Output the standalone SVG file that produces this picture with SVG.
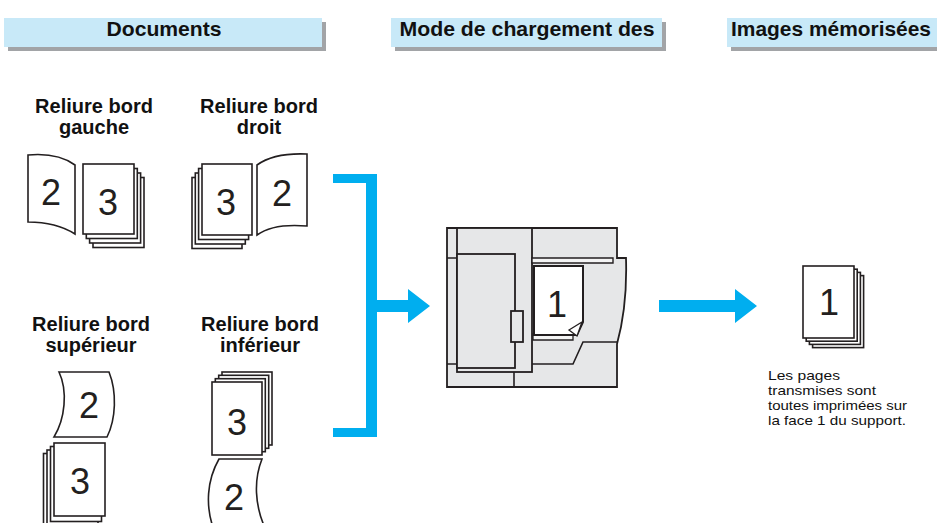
<svg xmlns="http://www.w3.org/2000/svg" width="937" height="523" viewBox="0 0 937 523">
  <style>
    .hdr { fill: #c8e9f8; }
    .shd { fill: #a2a4a7; }
    .htxt { font-family: "Liberation Sans", Arial, sans-serif; font-weight: bold; font-size: 21px; fill: #111; text-anchor: middle; }
    .lbl { font-family: "Liberation Sans", Arial, sans-serif; font-weight: bold; font-size: 20px; fill: #111; text-anchor: middle; }
    .pg { fill: #fff; stroke: #231f20; stroke-width: 1.6; stroke-linejoin: miter; }
    .dig { font-family: "Liberation Sans", Arial, sans-serif; font-size: 36px; fill: #231f20; text-anchor: middle; }
    .blue { fill: #00aeef; }
    .mach { fill: #e6e7e8; stroke: #231f20; stroke-width: 1.8; stroke-linejoin: miter; }
    .ln { fill: none; stroke: #231f20; stroke-width: 1.6; }
    .note { font-family: "Liberation Sans", Arial, sans-serif; font-size: 13.5px; fill: #111; }
  </style>

  <!-- column headers -->
  <g id="header-documents">
    <rect class="shd" x="8" y="22" width="318" height="29"/>
    <rect class="hdr" x="4" y="18" width="318" height="29"/>
    <text class="htxt" x="164" y="36" textLength="115" lengthAdjust="spacingAndGlyphs">Documents</text>
  </g>
  <g id="header-mode">
    <rect class="shd" x="395" y="22" width="271" height="29"/>
    <rect class="hdr" x="391" y="18" width="271" height="29"/>
    <text class="htxt" x="527" y="36" textLength="255" lengthAdjust="spacingAndGlyphs">Mode de chargement des</text>
  </g>
  <g id="header-images">
    <rect class="shd" x="731" y="22" width="215" height="29"/>
    <rect class="hdr" x="727" y="18" width="215" height="29"/>
    <text class="htxt" x="831" y="36" textLength="200" lengthAdjust="spacingAndGlyphs">Images mémorisées</text>
  </g>

  <!-- left-edge binding -->
  <g id="doc-gauche">
    <text class="lbl" x="94" y="113">Reliure bord</text>
    <text class="lbl" x="94" y="134">gauche</text>
    <path class="pg" d="M28,155 C50,153 64,157 75,165 L75,234 C64,227 50,222 28,222 Z"/>
    <text class="dig" x="51" y="205">2</text>
    <rect class="pg" x="93" y="177.5" width="51" height="70"/>
    <rect class="pg" x="89.6" y="173" width="51" height="70"/>
    <rect class="pg" x="86.3" y="168.5" width="51" height="70"/>
    <rect class="pg" x="83" y="164" width="51" height="70"/>
    <text class="dig" x="108" y="215">3</text>
  </g>

  <!-- right-edge binding -->
  <g id="doc-droit">
    <text class="lbl" x="259" y="113">Reliure bord</text>
    <text class="lbl" x="259" y="134">droit</text>
    <rect class="pg" x="192" y="177.5" width="50" height="71"/>
    <rect class="pg" x="195.3" y="173" width="50" height="71"/>
    <rect class="pg" x="198.6" y="168.5" width="50" height="71"/>
    <rect class="pg" x="202" y="164" width="50" height="71"/>
    <text class="dig" x="226" y="215">3</text>
    <path class="pg" d="M257,165 C268,157 284,153 307,154 L307,226 C284,224 268,227 257,235 Z"/>
    <text class="dig" x="282" y="206">2</text>
  </g>

  <!-- top-edge binding -->
  <g id="doc-superieur">
    <text class="lbl" x="91" y="331">Reliure bord</text>
    <text class="lbl" x="91" y="352">supérieur</text>
    <path class="pg" d="M59,372 L109,372 C117,392 116,419 107,437 L54,437 C65,419 68,391 59,372 Z"/>
    <text class="dig" x="89" y="418">2</text>
    <rect class="pg" x="43.5" y="453.5" width="51" height="75"/>
    <rect class="pg" x="47" y="450" width="51" height="75"/>
    <rect class="pg" x="50.5" y="446.5" width="51" height="75"/>
    <rect class="pg" x="54" y="443" width="51" height="73"/>
    <text class="dig" x="80" y="494">3</text>
  </g>

  <!-- bottom-edge binding -->
  <g id="doc-inferieur">
    <text class="lbl" x="260" y="331">Reliure bord</text>
    <text class="lbl" x="260" y="352">inférieur</text>
    <rect class="pg" x="222" y="372" width="50" height="73"/>
    <rect class="pg" x="218.7" y="375.3" width="50" height="73"/>
    <rect class="pg" x="215.3" y="378.7" width="50" height="73"/>
    <rect class="pg" x="212" y="382" width="50" height="73"/>
    <text class="dig" x="237" y="435">3</text>
    <path class="pg" d="M219,459 L262,459 C254,479 254,505 266,530 L214,530 C205,506 207,480 219,459 Z"/>
    <text class="dig" x="234" y="510">2</text>
  </g>

  <!-- connectors -->
  <g id="connectors">
    <!-- bracket gathering the four binding types -->
    <path class="blue" d="M333,174 H377 V437 H333 V428 H366 V183 H333 Z"/>
    <path class="blue" d="M376,300 H408 V289 L430,306 L408,323 V312 H376 Z"/>
    <!-- scan to stored image -->
    <path class="blue" d="M659,300 H735 V289 L757,306 L735,323 V312 H659 Z"/>
  </g>

  <!-- copier seen from above -->
  <g id="copier">
    <path class="mach" d="M447,228 H617 V258 H626 C627,290 623,322 617,344 V387 H447 Z"/>
    <!-- left strip markings -->
    <path class="ln" d="M447,258 H457 M447,364 H457"/>
    <!-- front door panel -->
    <rect class="mach" x="457" y="228" width="75" height="144"/>
    <rect class="mach" x="457" y="254" width="58" height="114"/>
    <rect class="mach" x="511" y="311" width="12" height="31" stroke-width="1.3"/>
    <path class="ln" d="M514,372 V387"/>
    <!-- top tray -->
    <path d="M532,258 H613 V263 H532 Z" fill="#f4f4f4" stroke="#231f20" stroke-width="1.4"/>
    <!-- lower step of the output area -->
    <path class="ln" d="M532,364 H573 L583,342 H617"/>
    <!-- lower tray lip -->
    <path d="M533,334 H573 V340 H533 Z" fill="#f4f4f4" stroke="#231f20" stroke-width="1.3"/>
    <!-- document page 1 -->
    <path d="M534,266 H583 V322 L577,335 H534 Z" fill="#fff" stroke="#231f20" stroke-width="2"/>
    <path d="M569,330 L582,322 L577,336 Z" fill="#fff" stroke="#231f20" stroke-width="1.3"/>
    <text class="dig" x="557" y="317">1</text>
  </g>

  <!-- stored image output -->
  <g id="output-stack">
    <rect class="pg" x="812.6" y="275.6" width="51" height="72"/>
    <rect class="pg" x="809.4" y="272.4" width="51" height="72"/>
    <rect class="pg" x="806.2" y="269.2" width="51" height="72"/>
    <rect class="pg" x="803" y="266" width="51" height="72"/>
    <text class="dig" x="829" y="315">1</text>
  </g>

  <g id="output-note">
    <text class="note" x="768" y="380" textLength="72" lengthAdjust="spacingAndGlyphs">Les pages</text>
    <text class="note" x="768" y="395" textLength="108" lengthAdjust="spacingAndGlyphs">transmises sont</text>
    <text class="note" x="768" y="410" textLength="139" lengthAdjust="spacingAndGlyphs">toutes imprimées sur</text>
    <text class="note" x="768" y="425" textLength="138" lengthAdjust="spacingAndGlyphs">la face 1 du support.</text>
  </g>
</svg>
